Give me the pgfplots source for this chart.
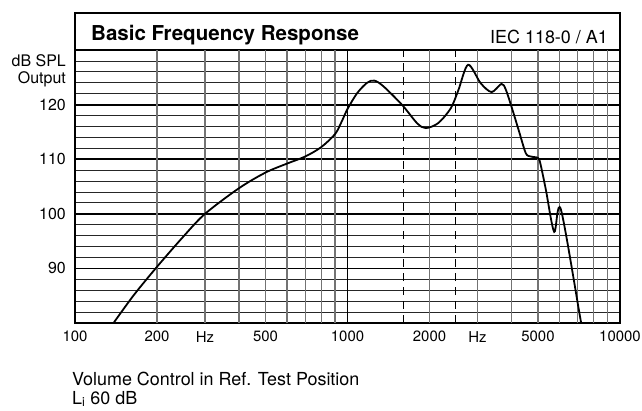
\documentclass[border=0pt]{standalone}
\usepackage{fontspec}
\setmainfont{TeX Gyre Heros}
\usepackage{pgfplots}
\pgfplotsset{compat=1.18}
\begin{document}
\begin{tikzpicture}[x=1bp,y=1bp]
\useasboundingbox (0,0) rectangle (642,410);
\begin{axis}[
  at={(75bp,87bp)}, anchor=south west,
  scale only axis, width=545bp, height=273bp,
  xmode=log, log basis x=10,
  xmin=100, xmax=10000, ymin=80, ymax=130,
  xtick={100,200,300,500,1000,2000,3000,5000,10000},
  xticklabels={100,200,Hz,500,1000,2000,Hz,5000,10000},
  ytick={90,100,110,120},
  minor ytick={82,84,86,88,92,94,96,98,102,104,106,108,112,114,116,118,122,124,126,128},
  ymajorgrids, yminorgrids,
  major grid style={black, line width=1.8bp},
  minor grid style={black!85, line width=0.8bp},
  major tick length=0pt, minor tick length=0pt,
  axis line style={line width=1.6bp},
  /pgf/number format/assume math mode=true,
  xticklabel style={font=\fontsize{15}{18}\selectfont, inner sep=0pt, yshift=-8bp},
  yticklabel style={font=\fontsize{16}{19}\selectfont, inner sep=0pt, xshift=-9bp},
]
\pgfplotsinvokeforeach{200,300,400,500,600,700,800,900,2000,3000,4000,5000,6000,7000,8000,9000}{
  \draw[black!55, line width=1.2bp] (axis cs:#1,80) -- (axis cs:#1,130);
}
\draw[black, line width=1.8bp] (axis cs:1000,80) -- (axis cs:1000,130);
\draw[black, line width=1bp, dash pattern=on 8bp off 6bp] (axis cs:1600,80) -- (axis cs:1600,130);
\draw[black, line width=1bp, dash pattern=on 8bp off 6bp] (axis cs:2500,80) -- (axis cs:2500,130);
\addplot[black, line width=1.8bp, smooth, tension=0.5] coordinates {
(138.5,80.0) (164,85.05) (200,90.3) (250,95.85) (300,100.0) (400,104.7)
(500,107.55) (600,109.2) (700,110.5) (800,112.2) (900,114.6) (950,116.8) (1000,119.2)
(1085,122.1) (1180,124.0) (1255,124.4) (1358,123.3) (1589,119.9)
(1800,116.6) (1936,115.7) (2150,116.6) (2391,119.3) (2550,122.6) (2770,127.3)
(3083,123.9) (3380,122.3) (3673,123.8) (3813,122.7) (4033,119.0) (4266,115.0)
(4511,111.1) (4700,110.5) (5010,110.2) (5118,108.9) (5345,104.4) (5734,96.7)
(6068,100.8) (7190,80.2) (7300,79.5)
};
\end{axis}
\draw[line width=1.5bp] (75,360) -- (75,397) -- (620,397) -- (620,360);
\node[anchor=base west, inner sep=0pt, font=\fontsize{20.6}{24}\selectfont\bfseries] at (91,369.3) {Basic Frequency Response};
\node[anchor=base east, inner sep=0pt, font=\fontsize{18}{22}\selectfont] at (608,366.7) {IEC 118-0 / A1};
\node[anchor=base east, inner sep=0pt, font=\fontsize{16}{19}\selectfont] at (66,343.3) {dB SPL};
\node[anchor=base east, inner sep=0pt, font=\fontsize{16}{19}\selectfont] at (66,326.7) {Output};
\node[anchor=base west, inner sep=0pt, font=\fontsize{18}{22}\selectfont] at (72,25) {Volume Control in Ref. Test Position};
\node[anchor=base west, inner sep=0pt, font=\fontsize{18}{22}\selectfont] at (72,6) {L\textsubscript{i} 60 dB};
\end{tikzpicture}
\end{document}
